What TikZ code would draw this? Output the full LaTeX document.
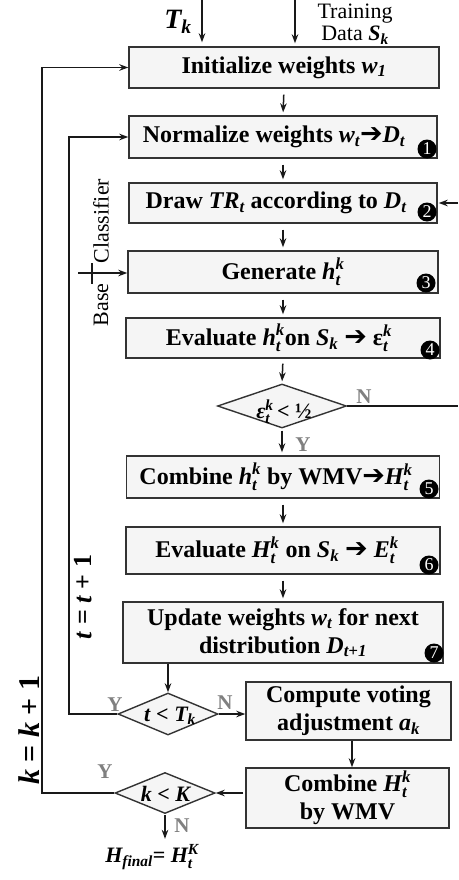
\documentclass[tikz,border=0pt]{standalone}
\usepackage{fontspec}
\usepackage{amsmath}
\setmainfont{Liberation Serif}
\newfontfamily\djv{DejaVu Sans}
\usetikzlibrary{shapes.geometric,arrows.meta}
\newcommand\mi[1]{\textit{#1}}
\newcommand\up[1]{\text{#1}}
\newcommand\harr{{\djv\mdseries\fontsize{27}{27}\selectfont\char"2794}}
\tikzset{
 box/.style={draw=black!80, fill=gray!8, line width=1.4pt, inner sep=0pt, align=center, font=\fontsize{24}{28}\selectfont\bfseries},
 dia/.style={diamond, draw=black!80, fill=gray!8, line width=1.4pt, inner sep=0pt},
 dtext/.style={inner sep=0pt, font=\fontsize{22}{22}\selectfont\bfseries},
 arr/.style={-{Stealth[length=9pt,width=6.5pt]}, line width=1.5pt, black!90},
 ln/.style={line width=1.5pt, black!90},
 numc/.style={circle, fill=black, text=white, inner sep=0pt, minimum size=19pt, font=\fontsize{18}{18}\selectfont},
 yn/.style={text=gray, font=\fontsize{21}{21}\selectfont\bfseries, inner sep=0pt},
}
\begin{document}
\begin{tikzpicture}[x=1pt,y=-1pt]
\useasboundingbox (0,0) rectangle (458,880);
% boxes
\node[box, minimum width=310pt, minimum height=41pt] (init) at (284,67.5) {Initialize weights $\mi{w}_{\mi{1}}$};
\node[box, minimum width=308pt, minimum height=42pt] (norm) at (283,137) {Normalize weights $\mi{w}_{\mi{t}}$\harr$\mi{D}_{\mi{t}}$\hspace{18pt}};
\node[box, minimum width=308pt, minimum height=40pt] (drw) at (283,203) {Draw $\mi{TR}_{\mi{t}}$ according to $\mi{D}_{\mi{t}}$\hspace{14pt}};
\node[box, minimum width=310pt, minimum height=42pt] (gen) at (283,272) {Generate $\mi{h}_{\mi{t}}^{\mi{k}}$};
\node[box, minimum width=314pt, minimum height=40pt] (eval) at (283,338) {Evaluate $\mi{h}_{\mi{t}}^{\mi{k}}$on $\mi{S}_{\mi{k}}$ \harr\ $\up{ε}_{\mi{t}}^{\mi{k}}$\hspace{8pt}};
\node[dia, minimum width=129pt, minimum height=44pt] (d1) at (282,406) {};
\node[dtext] (d1t) at (284,412) {$\mi{ε}_{\mi{t}}^{\mi{k}}$\,< ½};
\node[box, minimum width=313pt, minimum height=42pt] (comb) at (283,477) {Combine $\mi{h}_{\mi{t}}^{\mi{k}}$ by WMV\harr$\mi{H}_{\mi{t}}^{\mi{k}}$\hspace{14pt}};
\node[box, minimum width=314pt, minimum height=47pt] (evalH) at (283,550.5) {Evaluate $\mi{H}_{\mi{t}}^{\mi{k}}$ on $\mi{S}_{\mi{k}}$ \harr\ $\mi{E}_{\mi{t}}^{\mi{k}}$\hspace{12pt}};
\node[box, minimum width=320pt, minimum height=61pt] (upd) at (283,632.5) {Update weights $\mi{w}_{\mi{t}}$ for next\\distribution $\mi{D}_{\mi{t}\up{\textit{+}}\mi{1}}$};
\node[dia, minimum width=100pt, minimum height=42pt] (d2) at (168,714) {};
\node[dtext] (d2t) at (170,716) {\mi{t} < $\mi{T}_{\mi{k}}$};
\node[box, minimum width=205pt, minimum height=58pt] (comp) at (348.5,711) {Compute voting\\adjustment $\mi{a}_{\mi{k}}$};
\node[box, minimum width=203pt, minimum height=60pt] (combH) at (347.5,798) {Combine $\mi{H}_{\mi{t}}^{\mi{k}}$\\by WMV};
\node[dia, minimum width=100pt, minimum height=41pt] (d3) at (165,793) {};
\node[dtext] (d3t) at (166,794) {\mi{k} < \mi{K}};
\node[inner sep=0pt, font=\fontsize{22}{22}\selectfont\bfseries] (hf) at (152,857) {$\mi{H}_{\mi{final}}$= $\mi{H}_{\mi{t}}^{\mi{K}}$};
% numbered circles
\node[numc] (c1) at (427,149) {1};
\node[numc] (c2) at (427,212) {2};
\node[numc] (c3) at (426,283) {3};
\node[numc] (c4) at (430,350) {4};
\node[numc] (c5) at (429,489) {5};
\node[numc] (c6) at (429,565) {6};
\node[numc] (c7) at (434,653) {7};
% top inputs
\node[inner sep=0pt, font=\fontsize{28}{28}\selectfont\bfseries] (tk) at (178,22) {$\mi{T}_{\mi{k}}$};
\node[inner sep=0pt, align=center, font=\fontsize{22}{22}\selectfont] (trd) at (355,24) {Training\\Data $\textbf{\mi{S}}_{\textbf{\mi{k}}}$};
\coordinate (tkin) at (202,0);
\coordinate (trin) at (295,0);
\draw[arr, shorten >=4pt] (tkin) -- (tkin |- init.north);
\draw[arr, shorten >=3pt] (trin) -- (trin |- init.north);
% main column
\draw[arr, shorten <=6pt, shorten >=3pt] (init.south) -- (norm.north);
\draw[arr, shorten <=6pt, shorten >=3pt] (norm.south) -- (drw.north);
\draw[arr, shorten <=6pt, shorten >=3pt] (drw.south) -- (gen.north);
\draw[arr, shorten <=6pt, shorten >=3pt] (gen.south) -- (eval.north);
\draw[arr, shorten <=5pt, shorten >=2pt] (eval.south) -- (d1.north);
\draw[arr, shorten <=2pt, shorten >=3pt] (d1.south) -- (d1.south |- comb.north);
\draw[arr, shorten <=6pt, shorten >=3pt] (comb.south) -- (evalH.north);
\draw[arr, shorten <=6pt, shorten >=3pt] (evalH.south) -- (evalH.south |- upd.north);
\draw[arr] (d2.north |- upd.south) -- (d2.north);
\draw[arr] (d2.east) -- (comp.west |- d2.east);
\draw[arr] (comp.south -| 352,0) -- (352,0 |- combH.north);
\draw[arr, shorten <=2pt] (combH.west |- d3.east) -- (d3.east);
\draw[arr, shorten <=1pt, shorten >=5pt] (d3.south) -- (d3.south |- hf.north);
% right N loop
\coordinate (rn) at (458,406);
\coordinate (rin) at (458,203);
\draw[ln] (d1.east) -- (rn);
\draw[arr, shorten >=1pt] (rin) -- (drw.east);
% left loops
\coordinate (tl) at (69,0);
\coordinate (kl) at (42,0);
\draw[arr] (d2.west) -- (tl |- d2.west) -- (tl |- norm.west) -- (norm.west);
\draw[arr] (d3.west) -- (kl |- d3.west) -- (kl |- init.west) -- (init.west);
% base classifier
\coordinate (bcin) at (78,273);
\draw[arr] (bcin) -- (bcin -| gen.west);
\coordinate (bar1) at (92,263);
\coordinate (bar2) at (92,284);
\draw[ln] (bar1) -- (bar2);
\node[rotate=90, inner sep=0pt, font=\fontsize{22}{22}\selectfont] (cls) at (101,221) {Classifier};
\node[rotate=90, inner sep=0pt, font=\fontsize{22}{22}\selectfont] (base) at (101,305) {Base};
% loop labels
\node[rotate=90, inner sep=0pt, font=\fontsize{26}{26}\selectfont\bfseries] (tlab) at (83,597) {\mi{t} = \mi{t} + 1};
\node[rotate=90, inner sep=0pt, font=\fontsize{30}{30}\selectfont\bfseries] (klab) at (29,730) {\mi{k} = \mi{k} + 1};
% Y/N labels
\node[yn] (n1) at (364,397) {N};
\node[yn] (y1) at (303,445) {Y};
\node[yn] (y2) at (115,705) {Y};
\node[yn] (n2) at (225,703) {N};
\node[yn] (y3) at (105,772) {Y};
\node[yn] (n3) at (182,826) {N};
\end{tikzpicture}
\end{document}
